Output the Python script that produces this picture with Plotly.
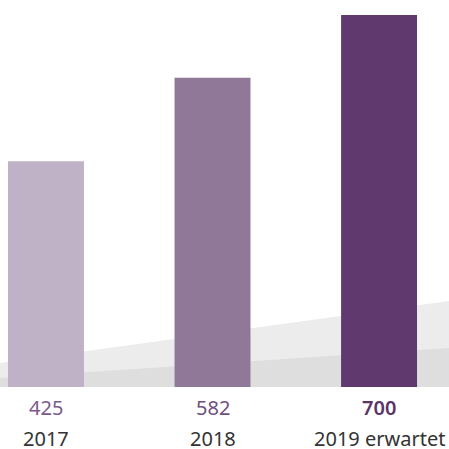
import plotly.graph_objects as go

categories = ["2017", "2018", "2019 erwartet"]
values = [425, 582, 700]
value_labels = ["425", "582", "700"]
bar_colors = ["#bfb1c6", "#8f7898", "#603a6e"]
label_colors = ["#7a5a8c", "#6e4f80", "#5a3569"]

W = H = 449
x_idx = list(range(len(categories)))

fig = go.Figure()
fig.add_trace(go.Bar(
    x=x_idx, y=values, width=0.456,
    marker=dict(color=bar_colors, line=dict(width=0)),
    hoverinfo="skip",
))

# value labels and category labels beneath the baseline
for i, (cat, vl) in enumerate(zip(categories, value_labels)):
    last = i == len(categories) - 1
    fig.add_annotation(x=i, y=-39.0, xref="x", yref="y", text=vl,
                       showarrow=False,
                       font=dict(size=20, color=label_colors[i], family="Noto Sans",
                                 weight=600 if last else 400),
                       xanchor="center", yanchor="middle")
    fig.add_annotation(x=i, y=-97.5, xref="x", yref="y", text=cat,
                       showarrow=False, font=dict(size=20, color="#333333", family="Noto Sans"),
                       xanchor="center", yanchor="middle")

def py(p):
    return 1 - p / H

# decorative gray wedges in the background
fig.add_shape(type="path", xref="paper", yref="paper", layer="below",
              path=f"M 0 {py(363)} L 1 {py(301)} L 1 {py(387)} L 0 {py(387)} Z",
              fillcolor="#ececec", line=dict(width=0))
fig.add_shape(type="path", xref="paper", yref="paper", layer="below",
              path=f"M 0 {py(378)} L 1 {py(348)} L 1 {py(387)} L 0 {py(387)} Z",
              fillcolor="#dedede", line=dict(width=0))

fig.update_layout(
    width=W, height=H,
    margin=dict(l=0, r=0, t=0, b=0),
    paper_bgcolor="white", plot_bgcolor="rgba(0,0,0,0)",
    showlegend=False,
    xaxis=dict(range=[-0.276, 2.42], visible=False, fixedrange=True),
    yaxis=dict(range=[-116.7, 728.2], visible=False, fixedrange=True),
    font=dict(family="Noto Sans"),
)

fig.write_html("out.html", config={"displayModeBar": False},
               post_script="document.body.style.margin='0';document.body.style.overflow='hidden';")
